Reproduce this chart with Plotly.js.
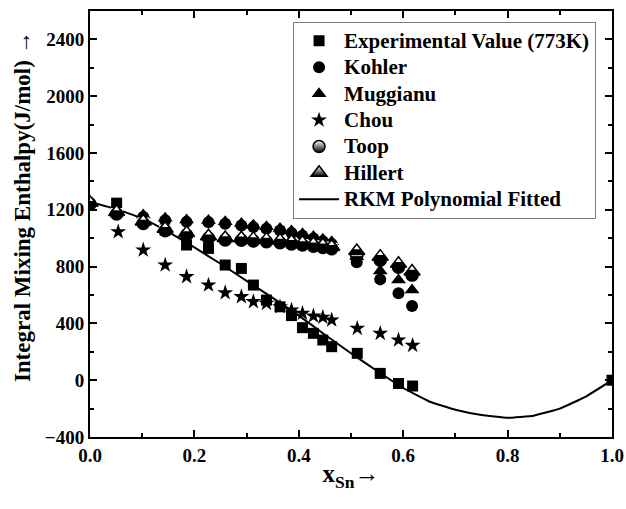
<!DOCTYPE html>
<html><head><meta charset="utf-8">
<script src="https://cdn.plot.ly/plotly-3.0.1.min.js"></script>
<style>html,body{margin:0;padding:0;background:#fff}#chart{width:626px;height:509px}</style>
</head><body><div id="chart"></div>
<script>
// ---- data ----
const seriesNames = ['Experimental Value (773K)', 'Kohler', 'Muggianu', 'Chou', 'Toop', 'Hillert', 'RKM Polynomial Fitted'];

const xExp = [0.051, 0.144, 0.185, 0.227, 0.259, 0.290, 0.313, 0.338, 0.364, 0.386, 0.407, 0.428, 0.446, 0.463, 0.512, 0.556, 0.591, 0.618, 1.0];
const yExp = [1247, 1057, 952, 928, 811, 787, 670, 564, 517, 455, 370, 330, 283, 236, 189, 48, -23, -41, 0];

const xModel = [0, 0.051, 0.102, 0.144, 0.185, 0.227, 0.259, 0.290, 0.313, 0.338, 0.364, 0.386, 0.407, 0.428, 0.446, 0.463, 0.511, 0.556, 0.591, 0.617];
const yKohler   = [1250, 1185, 1150, 1127, 1115, 1112, 1102, 1090, 1078, 1067, 1055, 1037, 1018, 998, 978, 960, 830, 710, 612, 522];
const yMuggianu = [1250, 1195, 1163, 1140, 1128, 1125, 1116, 1104, 1092, 1081, 1069, 1050, 1032, 1012, 993, 975, 870, 769, 705, 635];
const yToop     = [1240, 1170, 1104, 1052, 1022, 999, 987, 985, 980, 975, 968, 960, 952, 943, 935, 925, 874, 845, 795, 740];
const yHillert  = [1250, 1185, 1118, 1067, 1037, 1014, 1002, 1000, 995, 990, 983, 975, 967, 958, 950, 940, 910, 870, 820, 765];

const xChou = [0.054, 0.102, 0.144, 0.185, 0.227, 0.259, 0.290, 0.313, 0.338, 0.364, 0.386, 0.407, 0.428, 0.446, 0.463, 0.512, 0.556, 0.591, 0.618];
const yChou = [1045, 917, 811, 729, 670, 616, 588, 553, 541, 517, 494, 471, 452, 443, 424, 365, 330, 283, 245];

const xFit = [0, 0.05, 0.1, 0.15, 0.2, 0.25, 0.3, 0.35, 0.4, 0.45, 0.5, 0.55, 0.6, 0.65, 0.7, 0.75, 0.8, 0.85, 0.9, 0.95, 1.0];
const yFit = [1255, 1205, 1140, 1045, 935, 820, 700, 580, 455, 320, 190, 65, -55, -150, -208, -245, -265, -250, -200, -115, 0];

const yTickVals = [-400, 0, 400, 800, 1200, 1600, 2000, 2400];
const xTickVals = [0, 0.2, 0.4, 0.6, 0.8, 1.0];

// ---- styling ----
const F = 'Liberation Serif, Times New Roman, serif';
const S = 12;
const LEGEND_TEXT_PX = 21;
const traces = [];

function legendLabel(t) { return '<span style="font-size:' + LEGEND_TEXT_PX + 'px">' + t + '</span>'; }

traces.push({x: xFit, y: yFit, mode: 'lines', name: legendLabel(seriesNames[6]), legendrank: 7,
  line: {color: 'black', width: 2, shape: 'spline', smoothing: 0.3}, hoverinfo: 'skip'});
traces.push({x: xExp, y: yExp, mode: 'markers', name: legendLabel(seriesNames[0]), legendrank: 1,
  marker: {symbol: 'square', size: 11, color: 'black'}});
traces.push({x: xModel, y: yKohler, mode: 'markers', name: legendLabel(seriesNames[1]), legendrank: 2,
  marker: {symbol: 'circle', size: S, color: 'black'}});
traces.push({x: xModel, y: yMuggianu, mode: 'markers', name: legendLabel(seriesNames[2]), legendrank: 3,
  marker: {symbol: 'triangle-up', size: 13, color: 'black'}});
traces.push({x: xChou, y: yChou, mode: 'markers', name: legendLabel(seriesNames[3]), legendrank: 4,
  marker: {symbol: 'star', size: 12, color: 'black'}});

function halfCircle(x, y, name, rank) {
  return [
    {x, y, mode: 'markers', showlegend: false, hoverinfo: 'skip', marker: {symbol: 'circle', size: S, color: 'black'}},
    {x, y, mode: 'markers', showlegend: false, hoverinfo: 'skip', marker: {symbol: 'line-ew', size: S / 1.4, angle: 180, standoff: S / 4, color: 'white', line: {color: 'white', width: S / 2}}},
    {x, y, mode: 'markers', showlegend: false, hoverinfo: 'skip', marker: {symbol: 'circle-open', size: S, color: 'black', line: {color: 'black', width: 1.5}}},
    {x: [null], y: [null], mode: 'markers', name: legendLabel(name), legendrank: rank,
     marker: {symbol: 'circle', size: S, color: 'white', gradient: {type: 'vertical', color: 'black'}, line: {color: 'black', width: 1.5}}}
  ];
}
function halfTriangle(x, y, name, rank) {
  const T = 14;
  return [
    {x, y, mode: 'markers', showlegend: false, hoverinfo: 'skip', marker: {symbol: 'triangle-up', size: T, color: 'black'}},
    {x, y, mode: 'markers', showlegend: false, hoverinfo: 'skip', marker: {symbol: 'triangle-down', size: T / 2, angle: 180, standoff: T / 4, color: 'white', line: {width: 0}}},
    {x, y, mode: 'markers', showlegend: false, hoverinfo: 'skip', marker: {symbol: 'triangle-up-open', size: T, color: 'black', line: {color: 'black', width: 1.5}}},
    {x: [null], y: [null], mode: 'markers', name: legendLabel(name), legendrank: rank,
     marker: {symbol: 'triangle-up', size: T, color: 'white', gradient: {type: 'vertical', color: 'black'}, line: {color: 'black', width: 1.5}}}
  ];
}
traces.push(...halfCircle(xModel, yToop, seriesNames[4], 5));
traces.push(...halfTriangle(xModel, yHillert, seriesNames[5], 6));

const axisCommon = {
  showline: true, linewidth: 2, linecolor: 'black', mirror: 'allticks',
  ticks: 'inside', ticklen: 7, tickwidth: 2, tickcolor: 'black',
  showgrid: false, zeroline: false,
  tickfont: {family: F, size: 19, weight: 'bold', color: 'black'}
};

const layout = {
  width: 626, height: 509,
  margin: {l: 90, r: 14, t: 11, b: 72},
  paper_bgcolor: 'white', plot_bgcolor: 'white',
  font: {family: F, color: 'black'},
  showlegend: true,
  legend: {x: 0.389, y: 0.975, xanchor: 'left', yanchor: 'top', bgcolor: 'white',
    bordercolor: '#808080', borderwidth: 1, itemwidth: 40, tracegroupgap: 0,
    font: {family: F, size: 18, weight: 'bold', color: 'black'}},
  xaxis: Object.assign({}, axisCommon, {
    range: [0, 1.0], tickvals: xTickVals, tickformat: '.1f',
    minor: {dtick: 0.1, ticks: 'inside', ticklen: 4, tickwidth: 2, tickcolor: 'black'},
    title: {text: 'x<sub>Sn</sub>→', font: {family: F, size: 25, weight: 'bold', color: 'black'}, standoff: 0}
  }),
  yaxis: Object.assign({}, axisCommon, {
    range: [-400, 2600], tickvals: yTickVals,
    minor: {dtick: 200, ticks: 'inside', ticklen: 4, tickwidth: 2, tickcolor: 'black'},
    title: {text: '&nbsp;&nbsp;&nbsp;&nbsp;&nbsp;&nbsp;Integral Mixing Enthalpy(J/mol) →', font: {family: F, size: 23, weight: 'bold', color: 'black'}, standoff: 8}
  })
};

Plotly.newPlot('chart', traces, layout, {displayModeBar: false, staticPlot: true});
</script>
</body></html>
